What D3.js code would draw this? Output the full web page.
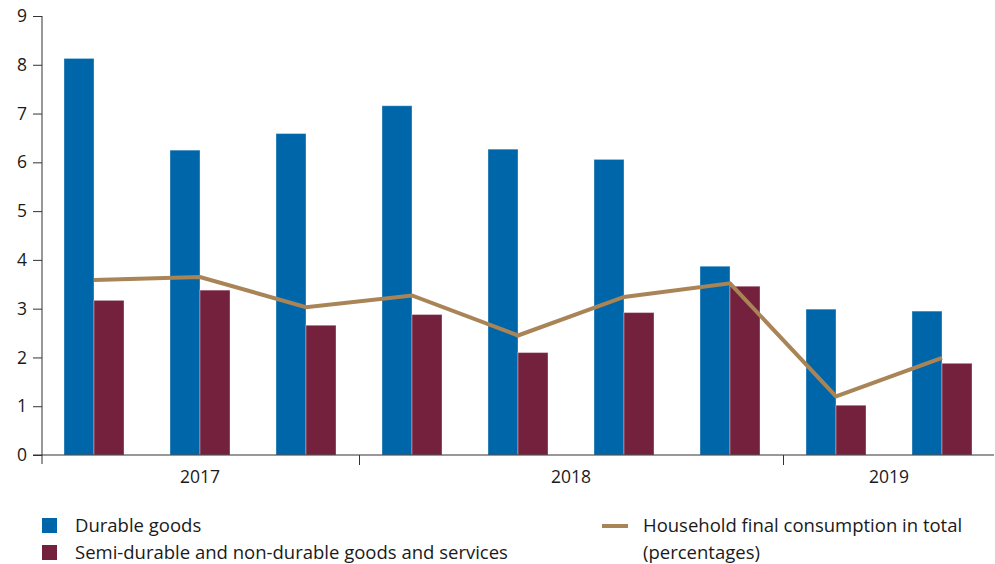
<!DOCTYPE html>
<html>
<head>
<meta charset="utf-8">
<title>Household consumption</title>
<script src="https://d3js.org/d3.v7.min.js"></script>
<style>
  body { margin: 0; background: #fff; }
  svg text { font-family: "Open Sans", sans-serif; fill: #1a1a1a; }
  .axis path, .axis line { stroke: #333; }
</style>
</head>
<body>
<svg width="995" height="564"></svg>
<script>
  // quarters from 2017 Q2 to 2019 Q2
  const quarters = ['2017Q2', '2017Q3', '2017Q4', '2018Q1', '2018Q2', '2018Q3', '2018Q4', '2019Q1', '2019Q2'];
  const years = ['2017', '2018', '2019'];
  const yearStart = [0, 3, 7, 9];   // quarter index where each year begins (last = end)
  const durable = [8.13, 6.25, 6.59, 7.16, 6.27, 6.06, 3.87, 2.99, 2.95];
  const semiDurable = [3.17, 3.38, 2.66, 2.88, 2.10, 2.92, 3.46, 1.02, 1.88];
  const household = [3.59, 3.65, 3.03, 3.27, 2.45, 3.24, 3.52, 1.20, 1.99];
  const yTicks = [0, 1, 2, 3, 4, 5, 6, 7, 8, 9];
  const seriesNames = ['Durable goods', 'Semi-durable and non-durable goods and services'];
  const lineName = ['Household final consumption in total', '(percentages)'];

  const colors = { durable: '#0066aa', semi: '#74213d', line: '#a88456' };

  const svg = d3.select('svg');
  const mLeft = 41, mRight = 995, mTop = 16, mBottom = 455;

  const y = d3.scaleLinear().domain([0, 9]).range([mBottom, mTop]);
  const x = d3.scaleBand().domain(quarters).range([mLeft, mRight])
    .paddingInner(0.434).paddingOuter(0.217);
  const x1 = d3.scaleBand().domain(['durable', 'semi']).range([0, x.bandwidth()]);
  const xi = d3.scaleLinear().domain([0, quarters.length]).range([mLeft, mRight]);

  const rows = quarters.map((q, i) => ({ q, durable: durable[i], semi: semiDurable[i], total: household[i] }));

  // bars
  const groups = svg.append('g').selectAll('g')
    .data(rows).enter().append('g')
    .attr('transform', d => `translate(${x(d.q)},0)`);

  groups.selectAll('rect')
    .data(d => ['durable', 'semi'].map(k => ({ k, v: d[k] })))
    .enter().append('rect')
    .attr('x', d => x1(d.k))
    .attr('y', d => y(d.v))
    .attr('width', x1.bandwidth())
    .attr('height', d => y(0) - y(d.v))
    .attr('fill', d => colors[d.k])
    .attr('stroke', 'rgba(255,255,255,0.35)')
    .attr('stroke-width', 1);

  // line
  const line = d3.line()
    .x(d => x(d.q) + x.bandwidth() / 2)
    .y(d => y(d.total));

  svg.append('path')
    .datum(rows)
    .attr('fill', 'none')
    .attr('stroke', colors.line)
    .attr('stroke-width', 4)
    .attr('d', line);

  // y axis
  const yAxis = svg.append('g')
    .attr('class', 'axis')
    .attr('transform', `translate(${mLeft + 1},0)`)
    .call(d3.axisLeft(y).tickValues(yTicks).tickSize(9).tickPadding(6));
  yAxis.select('.domain').attr('d', `M0,${mTop}V${mBottom + 9}`);
  yAxis.selectAll('text').style('font-size', '17.5px');

  // x axis with year separators
  const xAxis = svg.append('g')
    .attr('class', 'axis')
    .attr('transform', `translate(0,${mBottom})`)
    .call(d3.axisBottom(xi).tickValues(yearStart.slice(1)).tickSize(10).tickFormat(''));
  xAxis.select('.domain').attr('d', `M${mLeft - 8},0H${mRight - 1}`);

  svg.append('g').selectAll('text')
    .data(years).enter().append('text')
    .attr('x', (d, i) => xi((yearStart[i] + yearStart[i + 1]) / 2))
    .attr('y', mBottom + 28)
    .attr('text-anchor', 'middle')
    .style('font-size', '17.5px')
    .text(d => d);

  // legend
  const legend = svg.append('g');
  const legendItems = [{ name: seriesNames[0], c: colors.durable }, { name: seriesNames[1], c: colors.semi }];
  legendItems.forEach((d, i) => {
    legend.append('rect')
      .attr('x', 42).attr('y', 518 + i * 27)
      .attr('width', 15).attr('height', 15)
      .attr('fill', d.c);
    legend.append('text')
      .attr('x', 75).attr('y', 532 + i * 27)
      .style('font-size', '18.5px')
      .text(d.name);
  });
  legend.append('line')
    .attr('x1', 602).attr('x2', 628)
    .attr('y1', 526).attr('y2', 526)
    .attr('stroke', colors.line).attr('stroke-width', 4);
  lineName.forEach((t, i) => {
    legend.append('text')
      .attr('x', 643).attr('y', 532 + i * 27)
      .style('font-size', '18.5px')
      .text(t);
  });
</script>
</body>
</html>
